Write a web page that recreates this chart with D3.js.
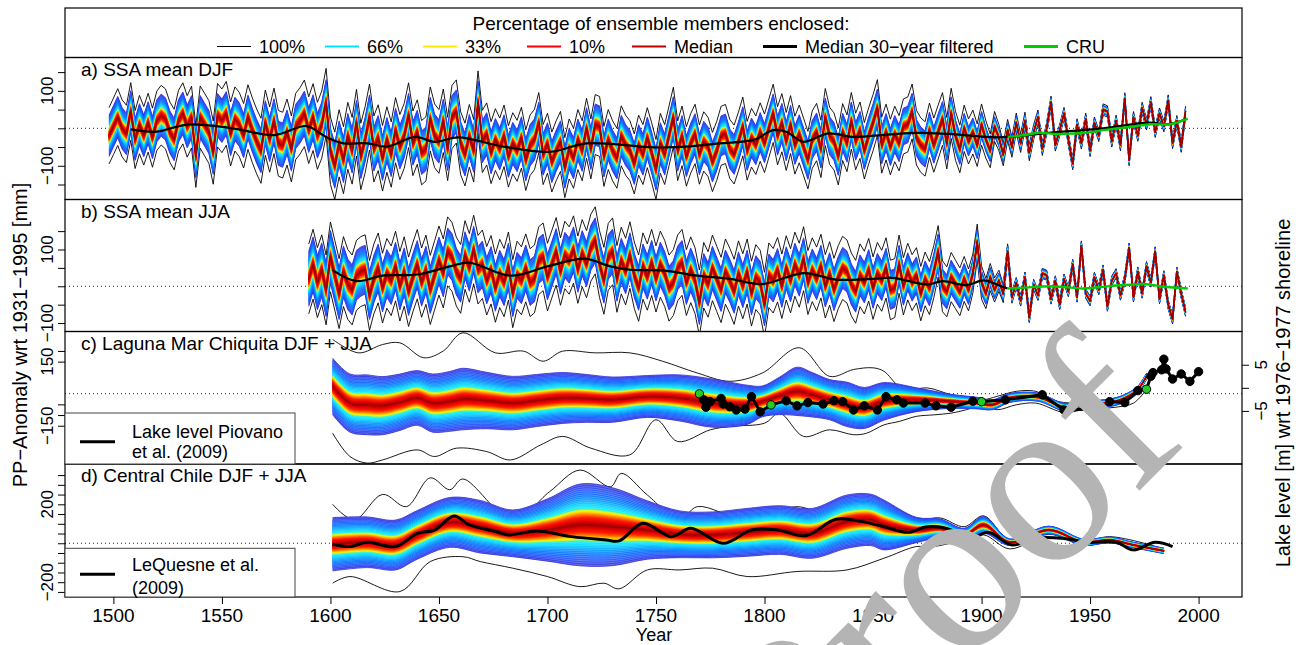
<!DOCTYPE html>
<html>
<head>
<meta charset="utf-8">
<script src="https://cdn.jsdelivr.net/npm/d3@7"></script>
<style>
  body { margin: 0; background: #fff; }
  svg { display: block; }
  text { font-family: "Liberation Sans", Arial, sans-serif; fill: #000; }
</style>
</head>
<body>
<svg id="chart" width="1299" height="645"></svg>
<script>
// ---------- data ----------

// a) SSA mean DJF : ensemble median every 2 years 1498..1994 (mm anomaly)
const yearsA = d3.range(1498, 1995, 2);
const medA = [
  -20, 5, 30, 0, -15, 45, -30, 10, -20, 15,
  -25, 20, 35, 25, -10, -30, 20, 40, 5, 30,
  -75, 30, 10, -10, -65, 35, 20, 40, -15, 25,
  10, -20, 30, -5, -35, -60, 15, -30, 20, -40,
  -45, -10, -55, 5, 20, 40, -5, 30, -20, 10,
  70, -60, -100, -40, -85, -20, -60, 15, -75, -30,
  30, -55, -25, -80, -30, -70, -5, -50, -20, 35,
  -40, -10, -65, -55, 25, -20, -35, 20, -55, 30,
  45, -40, -70, -20, -60, 70, -35, -15, -65, -30,
  -55, -20, -75, -40, -60, -25, -85, -45, -30, 15,
  -70, -40, -90, -60, -35, -105, -55, -80, -30, -60,
  0, -55, 10, 5, -75, -30, -60, -80, -20, -45,
  -60, -95, -45, -70, -25, -65, -110, -40, -70, -20,
  30, -60, -20, -75, -40, -15, -70, -35, -50, -90,
  -60, -20, -15, -55, -70, -35, 5, -60, -25, -45,
  -10, -40, 0, 40, -20, 15, -35, 10, -45, -15,
  -50, -85, -30, -10, -55, 30, -20, -35, -75, -10,
  -40, 20, -35, -5, -60, -20, 15, 55, -45, -10,
  -50, -15, -40, 5, 10, 45, -25, -45, -55, -5,
  -45, -10, 25, -40, 40, -20, -55, 0, -35, -10,
  -45, 10, -30, -60, 5, -25, -70, -5, -50, 15,
  -40, 20, -65, -10, 30, -55, 0, 70, -45, -5,
  40, -30, -95, 10, -40, 25, -60, 15, -20, 50,
  45, -35, 20, -45, 80, -85, 30, -20, 55, 10,
  70, -10, 40, 5, 75, -40, 20, -50, 45
];
const spreadYearsA = [1498, 1550, 1600, 1650, 1700, 1750, 1800, 1850, 1880, 1900, 1910, 1930, 1960, 1995];
const fanHalfA = [55, 58, 60, 58, 55, 55, 52, 50, 48, 35, 20, 12, 11, 10];
const envHalfA = [75, 85, 90, 85, 80, 80, 78, 75, 72, 55, 30, 16, 15, 14];
const filtYearsA = [1508, 1520, 1534, 1555, 1574, 1589, 1598, 1606, 1617, 1626, 1639, 1648, 1659, 1679, 1701, 1718, 1749, 1764, 1779, 1795, 1804, 1810, 1818, 1829, 1841, 1848, 1870, 1885, 1908, 1931, 1956, 1977, 1986, 1994];
const filtA = [-3, -9, 10, 0, -18, 6, -23, -40, -40, -49, -23, -36, -24, -48, -63, -40, -51, -49, -40, -31, -5, -9, -36, -14, -23, -21, -12, -15, -24, -12, 0, 15, 11, 24];
const cruYearsA = [1912, 1920, 1926, 1935, 1942, 1948, 1956, 1963, 1970, 1978, 1987, 1995];
const cruA = [-23, -18, -12, -15, -14, -12, -5, 0, 5, 11, 11, 26];

// b) SSA mean JJA : ensemble median every 2 years 1590..1994
const yearsB = d3.range(1590, 1995, 2);
const medB = [
  20, 60, 10, 45, -10, 80, 30, -20, 40, 5,
  -10, 30, 40, 45, -25, 20, 50, -5, 35, 15,
  55, 0, 40, -15, 25, 60, 10, 45, -10, 30,
  70, 35, 95, 80, 40, 20, 85, 50, 100, 45,
  60, 15, 45, -5, 35, 10, 55, -20, 30, 15,
  50, 10, 20, 70, 80, 25, 60, 95, 40, 85,
  70, 100, 45, 90, 60, 105, 125, 60, 15, 80,
  95, 20, 70, 40, 85, 30, -5, 55, 25, 65,
  20, 60, 35, -5, 10, 50, 65, 10, 45, 15,
  -45, 30, 5, 50, 20, -10, 40, 15, -15, 35,
  0, 40, -20, 25, 10, -50, 30, 15, 45, 0,
  50, 15, 60, 30, 75, 10, 45, 20, 55, 0,
  35, -10, 25, 50, 40, 5, -15, 30, 10, 45,
  -5, 35, 15, 50, -10, -5, 60, 0, 40, 10,
  30, -20, 20, -5, 40, 95, 0, -15, 25, 5,
  -15, 20, -10, 35, 120, 10, -20, 25, -10, 15,
  -20, 95, -30, 10, -40, 25, -85, 5, -25, 35,
  30, -35, 15, -50, 20, -15, 60, -30, 110, -20,
  -40, 25, -10, 45, -55, 15, 35, -25, 20, 105,
  -30, 40, -20, 55, 10, 95, -35, 30, -50, -90,
  40, -20, -70
];
const spreadYearsB = [1590, 1620, 1700, 1800, 1850, 1890, 1905, 1915, 1995];
const fanHalfB = [75, 65, 62, 58, 55, 45, 25, 12, 10];
const envHalfB = [95, 95, 92, 88, 85, 65, 35, 14, 12];
const filtYearsB = [1601, 1612, 1624, 1640, 1655, 1664, 1683, 1700, 1717, 1729, 1738, 1753, 1769, 1784, 1799, 1818, 1833, 1849, 1859, 1875, 1882, 1893, 1901, 1909, 1912];
const filtB = [44, 14, 29, 32, 54, 64, 29, 54, 75, 54, 45, 43, 29, 20, 6, 36, 18, 20, 23, 5, 14, 3, 16, 0, -6];
const cruYearsB = [1912, 1922, 1931, 1940, 1947, 1955, 1962, 1968, 1975, 1985, 1995];
const cruB = [-6, -3, 0, -3, -6, -2, 2, 4, 6, -2, -6];

// c) Laguna Mar Chiquita DJF + JJA
const yearsC = [1601, 1609, 1617, 1624, 1632, 1640, 1647, 1655, 1661, 1672, 1684, 1695, 1707, 1718, 1730, 1746, 1761, 1776, 1792, 1799, 1807, 1815, 1822, 1830, 1838, 1846, 1855, 1870, 1886, 1898, 1905, 1913, 1926, 1938, 1947, 1962, 1968, 1972, 1976];
const medC = [34, -44, -52, -56, -40, -20, -44, -36, -25, -32, -44, -32, -20, -22, -28, -13, -20, -44, -52, -36, -10, 11, -5, -28, -50, -67, -36, -28, -36, -44, -52, -20, -16, -63, -56, -36, -10, 19, 81];
const fanHalfC = [132, 136, 140, 136, 132, 128, 136, 140, 144, 132, 125, 122, 119, 112, 106, 98, 108, 113, 92, 72, 88, 113, 104, 94, 104, 96, 88, 56, 33, 27, 23, 21, 19, 18, 18, 18, 17, 16, 14];
const upYearsC = [1601, 1613, 1624, 1632, 1643, 1652, 1661, 1676, 1689, 1698, 1707, 1722, 1738, 1753, 1769, 1784, 1799, 1816, 1830, 1841, 1850, 1855, 1862, 1867, 1875, 1886, 1893, 1901, 1907, 1916, 1925, 1935, 1947, 1962, 1970, 1976];
const upC = [254, 191, 230, 238, 168, 200, 285, 191, 199, 152, 199, 191, 191, 152, 97, 58, 97, 215, 81, 113, 121, 105, 34, 19, 27, -5, -20, -28, -13, 11, 11, -36, -44, -28, 3, 95];
const loYearsC = [1601, 1609, 1617, 1624, 1640, 1648, 1658, 1672, 1683, 1697, 1707, 1720, 1738, 1750, 1760, 1775, 1784, 1800, 1807, 1818, 1830, 1841, 1847, 1855, 1862, 1870, 1878, 1886, 1893, 1901, 1907, 1916, 1925, 1938, 1947, 1962, 1970, 1976];
const loC = [-185, -294, -325, -310, -263, -294, -255, -271, -310, -239, -200, -255, -286, -122, -224, -169, -153, -138, -91, -200, -169, -192, -185, -146, -130, -106, -99, -91, -75, -52, -75, -52, -44, -88, -75, -63, -44, 19];
// lake level Piovano et al. (2009), metres wrt 1976-1977 shoreline
const lakeYears = [1770, 1772, 1773, 1775, 1780, 1781, 1784, 1787, 1791, 1794, 1798, 1803, 1810, 1815, 1820, 1827, 1832, 1836, 1841, 1846, 1852, 1856, 1861, 1864, 1874, 1879, 1886, 1896, 1900, 1911, 1928, 1938, 1956, 1959, 1966, 1972, 1976, 1978, 1979, 1983, 1984, 1985, 1988, 1992, 1996, 2000];
const lakeLevel = [-1.3, -2.6, -4.2, -3.0, -2.3, -3.5, -4.1, -4.8, -4.6, -1.9, -5.2, -3.7, -2.8, -3.9, -3.2, -3.5, -2.8, -3.0, -4.8, -3.9, -4.8, -1.9, -2.6, -3.3, -3.3, -3.9, -4.2, -2.9, -3.0, -2.6, -1.5, -4.8, -4.5, -3.0, -3.2, -0.6, -0.3, 2.5, 3.3, 3.9, 6.2, 4.1, 1.9, 3.0, 1.4, 3.5];
const lakeGreenYears = [1770, 1803, 1900, 1976];

// d) Central Chile DJF + JJA
const yearsD = [1601, 1617, 1630, 1640, 1655, 1669, 1684, 1700, 1715, 1730, 1746, 1761, 1776, 1792, 1807, 1822, 1838, 1849, 1855, 1870, 1881, 1892, 1901, 1913, 1931, 1947, 1959, 1970, 1984];
const medD = [-5, 5, -9, 43, 107, 85, 51, 68, 94, 85, 68, 46, 43, 56, 68, 51, 111, 120, 94, 68, 77, 43, 94, 5, 68, 5, 17, -9, -39];
const fanHalfD = [137, 130, 128, 125, 128, 135, 120, 160, 210, 200, 150, 120, 118, 123, 125, 128, 137, 132, 128, 65, 48, 34, 43, 17, 20, 16, 15, 14, 14];
const upYearsD = [1601, 1611, 1624, 1635, 1646, 1655, 1661, 1684, 1701, 1715, 1729, 1734, 1746, 1761, 1769, 1792, 1815, 1830, 1843, 1855, 1870, 1881, 1892, 1901, 1913, 1931, 1947, 1959, 1984];
const upD = [200, 120, 251, 188, 336, 275, 330, 120, 265, 376, 290, 359, 248, 120, 188, 120, 188, 145, 234, 196, 120, 130, 85, 141, 17, 80, 5, 34, -29];
const loYearsD = [1601, 1609, 1632, 1646, 1661, 1669, 1684, 1700, 1715, 1726, 1733, 1746, 1761, 1776, 1792, 1815, 1838, 1855, 1870, 1876, 1892, 1901, 1913, 1931, 1947, 1959, 1984];
const loD = [-205, -171, -248, -94, -69, -94, -128, -171, -223, -205, -234, -137, -137, -128, -171, -145, -137, -77, -17, -20, 17, 43, -29, 46, -12, 5, -51];
// LeQuesne et al. (2009)
const lqYears = [1601, 1609, 1617, 1630, 1640, 1648, 1657, 1664, 1676, 1682, 1695, 1711, 1727, 1733, 1744, 1757, 1766, 1781, 1794, 1806, 1819, 1833, 1845, 1855, 1866, 1875, 1886, 1893, 1903, 1914, 1925, 1937, 1949, 1962, 1970, 1980, 1988];
const lqVals = [-5, -17, 5, -17, 51, 68, 140, 94, 60, 43, 63, 34, 17, 12, 103, 34, 77, 0, 68, 68, 39, 123, 111, 85, 56, 85, 68, 12, 56, -9, 26, 26, 5, 5, -34, 5, -17];

// axes / legend text
const xTicks = [1500, 1550, 1600, 1650, 1700, 1750, 1800, 1850, 1900, 1950, 2000];
const legendLabels = ["100%", "66%", "33%", "10%", "Median", "Median 30\u2212year filtered", "CRU"];
const legendColours = ["#000000", "#00e4ff", "#ffe900", "#ff0000", "#bb0000", "#000000", "#00cc00"];

// ---------- layout ----------
const svg = d3.select("#chart");
const L = 65, R = 1242;
const x = d3.scaleLinear().domain([1477.7, 2020]).range([L, R]);
const legendX = [217, 325, 423, 527, 632, 763, 1024];

const panels = [
  { id: "a", top: 57.5, bottom: 199.5, dom: [-190, 189], ticks: [-150, -100, -50, 0, 50, 100, 150], labels: [100, -100], title: "a) SSA mean DJF" },
  { id: "b", top: 199.5, bottom: 331.5, dom: [-123, 236], ticks: [-100, -50, 0, 50, 100, 150], labels: [100, -100], title: "b) SSA mean JJA" },
  { id: "c", top: 331.5, bottom: 464, dom: [-329, 291], ticks: [200, 150, -50, -100, -150], labels: [150, -150], title: "c) Laguna Mar Chiquita DJF + JJA" },
  { id: "d", top: 464, bottom: 597, dom: [-276, 407], ticks: [-250, -200, -150, -100, -50, 0, 50, 100, 150, 200, 250, 300, 350], labels: [200, -200], title: "d) Central Chile DJF + JJA" }
];
panels.forEach(p => p.y = d3.scaleLinear().domain(p.dom).range([p.bottom, p.top]));
const yLake = d3.scaleLinear().domain([-16.5, 12.2]).range([464, 331.5]);

const fmt = d => d < 0 ? "\u2212" + Math.abs(d) : String(d);

const fanColor = d3.scaleLinear()
  .domain([0, 0.06, 0.18, 0.27, 0.33, 0.38, 0.41, 0.5, 0.6, 0.72, 0.86, 1])
  .range(["#9e0000", "#d80000", "#ff1a00", "#ff8c00", "#ffe600", "#c8ff3c", "#00f0ff", "#00d4ff", "#00a0ff", "#0070ff", "#2050ff", "#2a2ad8"])
  .interpolate(d3.interpolateRgb);

const defs = svg.append("defs");
panels.forEach(p => {
  defs.append("clipPath").attr("id", "clip-" + p.id)
    .append("rect").attr("x", L).attr("y", p.top).attr("width", R - L).attr("height", p.bottom - p.top);
});

// fan of quantile bands round the median
function drawFan(g, yrs, med, half, ys, curve) {
  const N = 30;
  for (let i = N; i >= 1; i--) {
    const f = Math.pow(i / N, 1.6);
    const col = fanColor(f);
    const area = d3.area().curve(curve)
      .x((d, j) => x(yrs[j]))
      .y0((d, j) => ys(med[j] - f * half[j]))
      .y1((d, j) => ys(med[j] + f * half[j]));
    const outer = f > 0.42;
    g.append("path").attr("d", area(med))
      .attr("fill", outer ? d3.interpolateRgb(col, "#ffffff")(0.3) : col)
      .attr("stroke", outer ? "none" : col).attr("stroke-width", 0.6);
    if (outer) {
      [1, -1].forEach(s => {
        const ln = d3.line().curve(curve)
          .x((d, j) => x(yrs[j]))
          .y((d, j) => ys(med[j] + s * f * half[j]));
        g.append("path").attr("d", ln(med)).attr("fill", "none")
          .attr("stroke", col).attr("stroke-width", 0.8);
      });
    }
  }
  g.append("path").attr("d", d3.line().curve(curve).x((d, j) => x(yrs[j])).y(d => ys(d))(med))
    .attr("fill", "none").attr("stroke", "#a00000").attr("stroke-width", 1);
}

function line(g, yrs, vals, ys, curve, colour, width) {
  g.append("path")
    .attr("d", d3.line().curve(curve).x((d, j) => x(yrs[j])).y(d => ys(d))(vals))
    .attr("fill", "none").attr("stroke", colour).attr("stroke-width", width)
    .attr("stroke-linejoin", "round");
}

const smooth = d3.curveCatmullRom.alpha(0.5);
const sharp = d3.curveLinear;

// ---------- panels ----------
panels.forEach(p => {
  const ys = p.y;
  // dotted zero line
  svg.append("line").attr("x1", L).attr("x2", R).attr("y1", ys(0)).attr("y2", ys(0))
    .attr("stroke", "#222").attr("stroke-width", 1).attr("stroke-dasharray", "1,3");

  const g = svg.append("g").attr("clip-path", `url(#clip-${p.id})`);

  if (p.id === "a" || p.id === "b") {
    const yrs = p.id === "a" ? yearsA : yearsB;
    const med = p.id === "a" ? medA : medB;
    const sy = p.id === "a" ? spreadYearsA : spreadYearsB;
    const fanS = d3.scaleLinear().domain(sy).range(p.id === "a" ? fanHalfA : fanHalfB);
    const envS = d3.scaleLinear().domain(sy).range(p.id === "a" ? envHalfA : envHalfB);
    const half = yrs.map(yr => fanS(yr));
    const env = yrs.map(yr => envS(yr));
    line(g, yrs, med.map((m, j) => m + env[j]), ys, sharp, "#000", 0.9);
    line(g, yrs, med.map((m, j) => m - env[j]), ys, sharp, "#000", 0.9);
    drawFan(g, yrs, med, half, ys, sharp);
    if (p.id === "a") {
      line(g, filtYearsA, filtA, ys, smooth, "#000", 2.2);
      line(g, cruYearsA, cruA, ys, smooth, "#00cc00", 2.4);
    } else {
      line(g, filtYearsB, filtB, ys, smooth, "#000", 2.2);
      line(g, cruYearsB, cruB, ys, smooth, "#00cc00", 2.4);
    }
  } else if (p.id === "c") {
    line(g, upYearsC, upC, ys, smooth, "#000", 0.9);
    line(g, loYearsC, loC, ys, smooth, "#000", 0.9);
    drawFan(g, yearsC, medC, fanHalfC, ys, smooth);
    line(g, lakeYears, lakeLevel, yLake, sharp, "#000", 3);
    g.selectAll("circle.lake").data(lakeYears).join("circle")
      .attr("cx", d => x(d)).attr("cy", (d, j) => yLake(lakeLevel[j])).attr("r", 4.2)
      .attr("fill", d => lakeGreenYears.includes(d) ? "#22cc22" : "#000")
      .attr("stroke", "#000").attr("stroke-width", 1);
  } else {
    line(g, upYearsD, upD, ys, smooth, "#000", 0.9);
    line(g, loYearsD, loD, ys, smooth, "#000", 0.9);
    drawFan(g, yearsD, medD, fanHalfD, ys, smooth);
    line(g, lqYears, lqVals, ys, smooth, "#000", 3);
  }

  // frame
  svg.append("rect").attr("x", L).attr("y", p.top).attr("width", R - L).attr("height", p.bottom - p.top)
    .attr("fill", "none").attr("stroke", "#000").attr("stroke-width", 1.2);

  // left axis
  svg.append("g").attr("transform", `translate(${L},0)`)
    .call(d3.axisLeft(ys).tickValues(p.ticks).tickSize(7).tickFormat(""))
    .call(a => a.select(".domain").remove())
    .call(a => a.selectAll("line").attr("stroke", "#000"));
  p.labels.forEach(v => {
    svg.append("text").attr("transform", `translate(47,${ys(v)}) rotate(-90)`)
      .attr("text-anchor", "middle").attr("dy", "0.35em").style("font-size", "17px").text(fmt(v));
  });

  svg.append("text").attr("x", 81).attr("y", p.top + 18).style("font-size", "19px").text(p.title);
});

// right axis (lake level) in panel c
svg.append("g").attr("transform", `translate(${R},0)`)
  .call(d3.axisRight(yLake).tickValues([-5, 0, 5]).tickSize(7).tickFormat(""))
  .call(a => a.select(".domain").remove());
[5, -5].forEach(v => {
  svg.append("text").attr("transform", `translate(1261,${yLake(v)}) rotate(-90)`)
    .attr("text-anchor", "middle").attr("dy", "0.35em").style("font-size", "17px").text(fmt(v));
});

// in-panel legends (c, d)
function boxLegend(top, lineY, lines) {
  svg.append("rect").attr("x", L).attr("y", top).attr("width", 230).attr("height", lines.bottom - top)
    .attr("fill", "#fff").attr("stroke", "#444").attr("stroke-width", 1);
  svg.append("line").attr("x1", 80).attr("x2", 115).attr("y1", lineY).attr("y2", lineY)
    .attr("stroke", "#000").attr("stroke-width", 3);
  lines.text.forEach((t, i) => {
    svg.append("text").attr("x", 132).attr("y", lines.base[i]).style("font-size", "18px").text(t);
  });
}
boxLegend(413, 441.7, { bottom: 464, text: ["Lake level Piovano", "et al. (2009)"], base: [438, 458] });
boxLegend(548.3, 574.3, { bottom: 597, text: ["LeQuesne et al.", "(2009)"], base: [571, 594] });

// bottom axis
svg.append("g").attr("transform", "translate(0,597)")
  .call(d3.axisBottom(x).tickValues(xTicks).tickSize(7).tickFormat(""))
  .call(a => a.select(".domain").remove());
xTicks.forEach(t => {
  svg.append("text").attr("x", x(t)).attr("y", 622).attr("text-anchor", "middle")
    .style("font-size", "19px").text(t);
});
svg.append("text").attr("x", 654).attr("y", 641).attr("text-anchor", "middle")
  .style("font-size", "18px").text("Year");

// axis titles
svg.append("text").attr("transform", "translate(20,335) rotate(-90)")
  .attr("text-anchor", "middle").attr("dy", "0.35em").style("font-size", "20px")
  .text("PP\u2212Anomaly wrt 1931\u22121995 [mm]");
svg.append("text").attr("transform", "translate(1283,393) rotate(-90)")
  .attr("text-anchor", "middle").attr("dy", "0.35em").style("font-size", "20px")
  .text("Lake level [m] wrt 1976\u22121977 shoreline");

// top legend
svg.append("rect").attr("x", L).attr("y", 8).attr("width", R - L).attr("height", 49.5)
  .attr("fill", "none").attr("stroke", "#000").attr("stroke-width", 1.2);
svg.append("text").attr("x", 661).attr("y", 30).attr("text-anchor", "middle")
  .style("font-size", "19px").text("Percentage of ensemble members enclosed:");
legendLabels.forEach((lab, i) => {
  const w = (i === 0) ? 1 : (i === 5 || i === 6) ? 3 : 2;
  svg.append("line").attr("x1", legendX[i]).attr("x2", legendX[i] + 34).attr("y1", 46.5).attr("y2", 46.5)
    .attr("stroke", legendColours[i]).attr("stroke-width", w);
  svg.append("text").attr("x", legendX[i] + 42).attr("y", 53).style("font-size", "18px").text(lab);
});

// "Proof" watermark
svg.append("text").attr("transform", "translate(805,825) rotate(-45)")
  .style("font-family", "'Liberation Serif', 'DejaVu Serif', serif").style("font-size", "245px")
  .style("fill", "#b4b4b4").text("Proof");
</script>
</body>
</html>
